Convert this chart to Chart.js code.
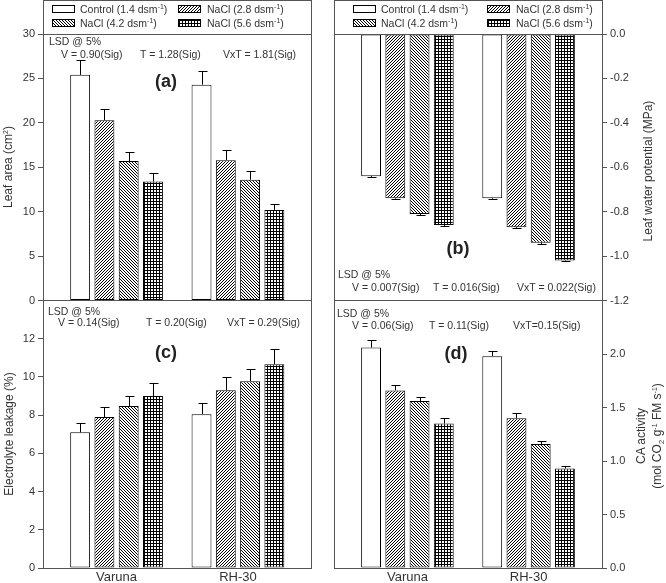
<!DOCTYPE html>
<html><head><meta charset="utf-8">
<script src="https://cdn.jsdelivr.net/npm/chart.js@4/dist/chart.umd.min.js"></script>
<style>
html,body{margin:0;padding:0;background:#fff;}
#wrap{position:relative;width:666px;height:583px;overflow:hidden;font-family:'Liberation Sans',Arial,sans-serif;color:#333;}
#wrap canvas{position:absolute;left:0;top:0;}
.t{position:absolute;white-space:nowrap;font-size:10.5px;line-height:12px;}
.sup{font-size:7px;position:relative;top:-4px;}
.sub{font-size:8px;position:relative;top:3px;}
.box{position:absolute;box-sizing:border-box;border:1px solid #555;background:#fff;}
.sw{position:absolute;box-sizing:border-box;width:23px;height:8px;border:1px solid #000;image-rendering:pixelated;}
.lab{position:absolute;font-weight:bold;font-size:18px;transform:translate(-50%,-50%);white-space:nowrap;color:#222;}
.rot{position:absolute;font-size:12px;line-height:16px;white-space:nowrap;text-align:center;transform:translate(-50%,-50%) rotate(-90deg);}
</style></head>
<body>
<div id="wrap">
<canvas id="ca" width="666" height="583"></canvas>
<canvas id="cb" width="666" height="583"></canvas>
<canvas id="cc" width="666" height="583"></canvas>
<canvas id="cd" width="666" height="583"></canvas>
<div id="overlay"></div>
</div>
<script>
// ---------- data ----------
const categories = ['Varuna', 'RH-30'];
const treatments = ['Control (1.4 dsm<span class="sup">-1</span>)', 'NaCl (2.8 dsm<span class="sup">-1</span>)',
                    'NaCl (4.2 dsm<span class="sup">-1</span>)', 'NaCl (5.6 dsm<span class="sup">-1</span>)'];
// each row = one treatment, values for [Varuna, RH-30]
const leafArea      = [[25.4, 24.3], [20.3, 15.8], [15.7, 13.6], [13.4, 10.2]];
const leafAreaErr   = [[1.7, 1.55], [1.3, 1.1], [1.05, 1.0], [0.95, 0.65]];
const leafWP        = [[-0.64, -0.74], [-0.74, -0.87], [-0.81, -0.94], [-0.86, -1.02]];
const leafWPErr     = [[0.004, 0.004], [0.004, 0.004], [0.004, 0.004], [0.004, 0.004]];
const electrolyte   = [[7.1, 8.05], [7.9, 9.3], [8.48, 9.78], [9.0, 10.67]];
const electrolyteErr= [[0.5, 0.6], [0.55, 0.68], [0.52, 0.63], [0.67, 0.77]];
const caActivity    = [[2.06, 1.98], [1.66, 1.40], [1.56, 1.16], [1.35, 0.93]];
const caActivityErr = [[0.07, 0.05], [0.05, 0.05], [0.04, 0.03], [0.05, 0.02]];
const lsdA = ['V = 0.90(Sig)', 'T = 1.28(Sig)', 'VxT = 1.81(Sig)'];
const lsdB = ['V = 0.007(Sig)', 'T = 0.016(Sig)', 'VxT = 0.022(Sig)'];
const lsdC = ['V = 0.14(Sig)', 'T = 0.20(Sig)', 'VxT = 0.29(Sig)'];
const lsdD = ['V = 0.06(Sig)', 'T = 0.11(Sig)', 'VxT=0.15(Sig)'];

const catPos = categories.map((c, i) => i + 1);

// ---------- patterns ----------
function tile(kind) {
  const c = document.createElement('canvas');
  const s = 3;
  c.width = s; c.height = s;
  const g = c.getContext('2d');
  g.fillStyle = '#fff'; g.fillRect(0, 0, s, s);
  g.fillStyle = '#000';
  if (kind === 'fwd') { for (let i = 0; i < s; i++) g.fillRect(i, s - 1 - i, 1, 1); }
  else if (kind === 'back') { for (let i = 0; i < s; i++) g.fillRect(i, i, 1, 1); }
  else if (kind === 'check') { g.fillRect(0, 0, 3, 1); g.fillRect(0, 0, 1, 3); }
  return c;
}
const tiles = [tile('none'), tile('fwd'), tile('back'), tile('check')];
const pctx = document.createElement('canvas').getContext('2d');
const patterns = tiles.map(t => pctx.createPattern(t, 'repeat'));

// ---------- plugins ----------
const errorPlugin = {
  id: 'errbars',
  afterDatasetsDraw(chart) {
    const ctx = chart.ctx, ys = chart.scales.y;
    ctx.save(); ctx.strokeStyle = '#000'; ctx.lineWidth = 1;
    chart.data.datasets.forEach((ds, k) => {
      const meta = chart.getDatasetMeta(k);
      meta.data.forEach((el, i) => {
        const v = ds.data[i].y, e = ds.errors[i];
        const yEnd = Math.round(ys.getPixelForValue(v + Math.sign(v) * e)) + 0.5;
        const x = Math.round(el.x) + 0.5;
        ctx.beginPath();
        ctx.moveTo(x, el.y); ctx.lineTo(x, yEnd);
        ctx.moveTo(x - 4, yEnd); ctx.lineTo(x + 5, yEnd);
        ctx.stroke();
      });
    });
    ctx.restore();
  }
};
const framePlugin = {
  id: 'frame',
  afterDraw(chart) {
    const a = chart.chartArea, ctx = chart.ctx;
    ctx.save(); ctx.strokeStyle = '#555'; ctx.lineWidth = 1;
    const l = Math.floor(a.left) + 0.5, r = Math.floor(a.right) + 0.5;
    const t = Math.floor(a.top) + 0.5, b = Math.floor(a.bottom) + 0.5;
    ctx.strokeRect(l, t, r - l, b - t);
    ctx.restore();
  }
};

Chart.defaults.font.family = "'Liberation Sans', Arial, sans-serif";
Chart.defaults.color = '#333';

function panel(id, values, errs, o) {
  return new Chart(document.getElementById(id).getContext('2d'), {
    type: 'bar',
    data: {
      datasets: values.map((vals, k) => ({
        label: 'T' + k,
        data: vals.map((v, i) => ({ x: catPos[i], y: v })),
        errors: errs[k],
        backgroundColor: patterns[k],
        borderColor: '#000', borderWidth: 1, borderSkipped: false
      }))
    },
    options: {
      responsive: false, animation: false, devicePixelRatio: 1,
      layout: { padding: o.padding },
      plugins: { legend: { display: false }, tooltip: { enabled: false } },
      datasets: { bar: { barPercentage: 0.82, categoryPercentage: 0.8 } },
      scales: {
        x: {
          type: 'linear', offset: false, min: 0.394, max: 2.606,
          grid: { display: false, drawTicks: false }, border: { display: false },
          afterBuildTicks: s => { s.ticks = catPos.map(v => ({ value: v })); },
          afterFit: s => { s.height = o.xHeight; },
          ticks: { display: o.showX, autoSkip: false, maxRotation: 0, padding: 2,
                   font: { size: 13 }, color: '#333',
                   callback: v => { const i = catPos.indexOf(v); return i >= 0 ? categories[i] : ''; } }
        },
        y: {
          position: o.yPos, min: o.min, max: o.max,
          grid: { display: true, drawOnChartArea: false, drawTicks: true, tickLength: 5, color: '#555' },
          border: { display: false },
          afterBuildTicks: s => { s.ticks = s.ticks.filter(t => t.value <= o.tickMax + 1e-9); },
          afterFit: s => { s.width = o.yWidth; },
          ticks: { stepSize: o.step, padding: 3, font: { size: 11 }, color: '#333',
                   callback: v => o.dec ? Number(v).toFixed(o.dec) : String(Math.round(v)) }
        }
      }
    },
    plugins: [errorPlugin, framePlugin]
  });
}

panel('ca', leafArea, leafAreaErr, { padding: { left: 0, right: 354.5, top: 34, bottom: 282.5 },
  xHeight: 0, showX: false, yPos: 'left', min: 0, max: 30, step: 5, tickMax: 30, yWidth: 43, dec: 0 });
panel('cb', leafWP, leafWPErr, { padding: { left: 334, right: 0, top: 34, bottom: 282.5 },
  xHeight: 0, showX: false, yPos: 'right', min: -1.2, max: 0, step: 0.2, tickMax: 0, yWidth: 64, dec: 1 });
panel('cc', electrolyte, electrolyteErr, { padding: { left: 0, right: 354.5, top: 300.5, bottom: 0 },
  xHeight: 15, showX: true, yPos: 'left', min: 0, max: 14, step: 2, tickMax: 12, yWidth: 43, dec: 0 });
panel('cd', caActivity, caActivityErr, { padding: { left: 334, right: 0, top: 300.5, bottom: 0 },
  xHeight: 15, showX: true, yPos: 'right', min: 0, max: 2.5, step: 0.5, tickMax: 2.0, yWidth: 64, dec: 1 });

// ---------- text overlay ----------
const ov = document.getElementById('overlay');
function add(html, cls, style) { const d = document.createElement('div'); d.className = cls; d.innerHTML = html; d.setAttribute('style', style); ov.appendChild(d); return d; }

function legend(boxLeft, cols) {
  add('', 'box', `left:${boxLeft}px;top:0;width:269px;height:35px;`);
  const rows = [[0, 1], [2, 3]];
  rows.forEach((row, r) => row.forEach((k, c) => {
    const sw = cols[c];
    add('', 'sw', `left:${sw[0]}px;top:${5 + r * 14}px;background-image:url(${tiles[k].toDataURL()});`);
    add(treatments[k], 't', `left:${sw[1]}px;top:${3 + r * 14}px;`);
  }));
}
legend(43, [[52, 80], [178, 207]]);
legend(334, [[353, 381], [487, 516]]);

function lsd(lines, lsdPos, rowTop, xs) {
  add('LSD @ 5%', 't', `left:${lsdPos[0]}px;top:${lsdPos[1]}px;`);
  lines.forEach((s, i) => add(s, 't', `left:${xs[i]}px;top:${rowTop}px;`));
}
lsd(lsdA, [49, 35], 47.5, [61, 140, 223]);
lsd(lsdB, [338, 268], 280.7, [352, 433, 517]);
lsd(lsdC, [48, 304.7], 316.3, [58, 146, 227]);
lsd(lsdD, [337, 307], 319, [352, 429, 513]);

add('(a)', 'lab', 'left:166px;top:81px;');
add('(b)', 'lab', 'left:458px;top:248px;');
add('(c)', 'lab', 'left:166px;top:352px;');
add('(d)', 'lab', 'left:456px;top:353px;');

add('Leaf area (cm<span class="sup">2</span>)', 'rot', 'left:9px;top:167px;');
add('Electrolyte leakage (%)', 'rot', 'left:9px;top:434px;');
add('Leaf water potential (MPa)', 'rot', 'left:648px;top:171px;');
add('CA activity<br>(mol CO<span class="sub">2</span> g<span class="sup">-1</span> FM s<span class="sup">-1</span>)', 'rot', 'left:650px;top:436px;');
</script>
</body></html>
